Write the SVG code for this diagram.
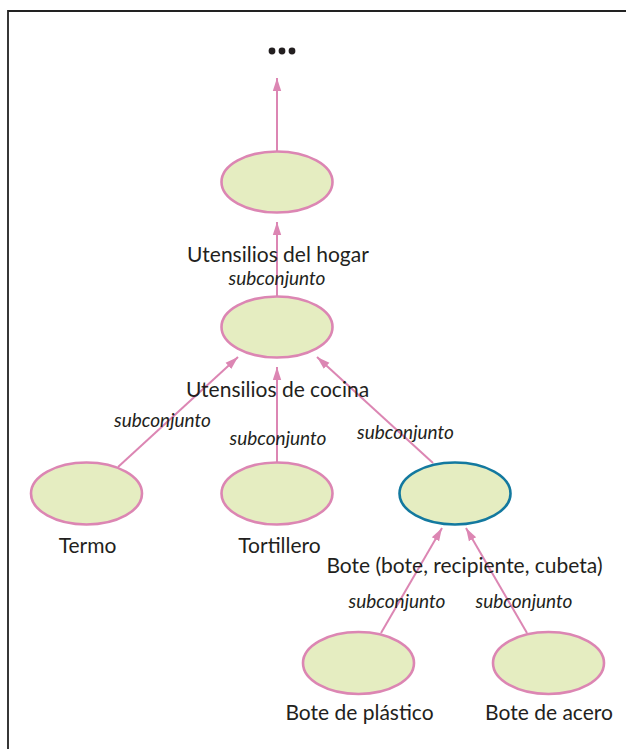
<svg xmlns="http://www.w3.org/2000/svg" width="626" height="749" viewBox="0 0 626 749">
  <style>
    .node { fill: #e5edc1; stroke: #dc86b3; stroke-width: 2.6; }
    .node.sel { stroke: #13799f; }
    .edge { stroke: #dc86b3; stroke-width: 2; fill: none; marker-end: url(#head); }
    .lbl { font-family: Lato, "Open Sans", sans-serif; font-size: 21px; fill: #231f20; text-anchor: middle; }
    .rel { font-family: Lato, "Open Sans", sans-serif; font-size: 19px; font-style: italic; fill: #231f20; text-anchor: middle; }
  </style>
  <defs>
    <marker id="head" markerUnits="userSpaceOnUse" markerWidth="14" markerHeight="10" refX="13" refY="5" orient="auto">
      <path d="M0,0.8 L13,5 L0,9.2 Z" fill="#dc86b3"/>
    </marker>
  </defs>

  <rect width="626" height="749" fill="#ffffff"/>
  <!-- page frame -->
  <path d="M8,749 V11 H626" fill="none" stroke="#222" stroke-width="1.8"/>

  <!-- continuation mark -->
  <g id="more" fill="#231f20">
    <circle cx="272" cy="51" r="3.4"/>
    <circle cx="282" cy="51" r="3.4"/>
    <circle cx="292" cy="51" r="3.4"/>
  </g>

  <g id="connectors">
    <line class="edge" x1="277" y1="151" x2="277" y2="78"/>
    <line class="edge" x1="277" y1="296" x2="277" y2="222"/>
    <line class="edge" x1="118" y1="467" x2="238" y2="357"/>
    <line class="edge" x1="277" y1="462" x2="277" y2="367"/>
    <line class="edge" x1="433" y1="463" x2="317" y2="357"/>
    <line class="edge" x1="381" y1="633" x2="442" y2="528"/>
    <line class="edge" x1="527" y1="633" x2="466" y2="528"/>
  </g>

  <g id="hogar">
    <ellipse class="node" cx="277" cy="182" rx="55.5" ry="30.5"/>
  </g>
  <g id="cocina">
    <ellipse class="node" cx="277" cy="327" rx="55.5" ry="30.5"/>
    <text class="lbl" x="278" y="262">Utensilios del hogar</text>
    <text class="rel" x="277" y="285">subconjunto</text>
  </g>
  <g id="termo">
    <ellipse class="node" cx="86.5" cy="493.5" rx="55.5" ry="31"/>
    <text class="lbl" x="87.5" y="553">Termo</text>
  </g>
  <g id="tortillero">
    <ellipse class="node" cx="277" cy="493.5" rx="55.5" ry="31"/>
    <text class="lbl" x="279.5" y="553">Tortillero</text>
  </g>
  <g id="bote">
    <ellipse class="node sel" cx="455" cy="493.5" rx="55.5" ry="31"/>
    <text class="lbl" x="464.5" y="573">Bote (bote, recipiente, cubeta)</text>
  </g>
  <g id="bote-plastico">
    <ellipse class="node" cx="358.5" cy="663" rx="55.5" ry="31"/>
    <text class="lbl" x="359.5" y="720">Bote de plástico</text>
  </g>
  <g id="bote-acero">
    <ellipse class="node" cx="548.5" cy="663" rx="55.5" ry="31"/>
    <text class="lbl" x="549" y="720">Bote de acero</text>
  </g>

  <!-- kitchen-utensil label and relation labels -->
  <g id="labels">
    <text class="lbl" x="277.5" y="397">Utensilios de cocina</text>
    <text class="rel" x="162.5" y="427">subconjunto</text>
    <text class="rel" x="278" y="445">subconjunto</text>
    <text class="rel" x="405.5" y="439">subconjunto</text>
    <text class="rel" x="397" y="608">subconjunto</text>
    <text class="rel" x="524" y="608">subconjunto</text>
  </g>
</svg>
